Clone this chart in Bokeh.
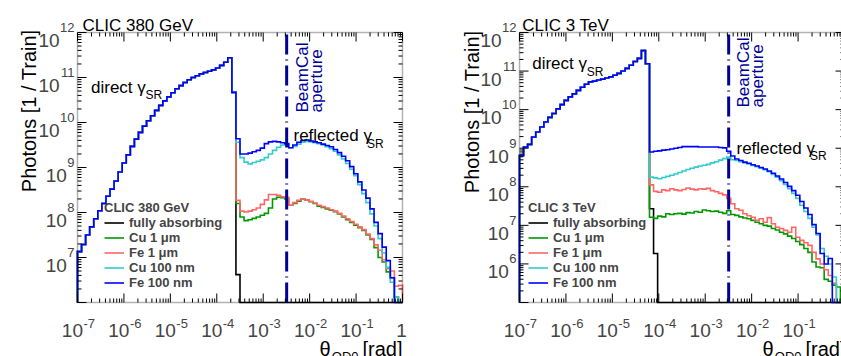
import numpy as np
from bokeh.plotting import figure
from bokeh.layouts import row
from bokeh.models import Range1d, Label, Legend, LegendItem, BoxAnnotation
from bokeh.embed import file_html
from bokeh.resources import INLINE

FONT = "Liberation Sans"

# ---------------- data ----------------
# 80 logarithmic bins in theta_QD0 from 1e-7 to 1 rad
bin_exp_lo, bin_exp_hi, n_bins = -7.0, 0.0, 80
beamcal_aperture = 3.2e-3  # rad

series_labels = ["fully absorbing", "Cu 1 \u03bcm", "Fe 1 \u03bcm", "Cu 100 nm", "Fe 100 nm"]
series_colors = ["#000000", "#009900", "#ff6666", "#33cccc", "#0000ff"]

x_tick_exps = [-7, -6, -5, -4, -3, -2, -1, 0]

# ---- CLIC 380 GeV : log10(photons / train) per bin ----
direct_380 = [7.13, 7.29, 7.50, 7.68, 7.86, 8.04, 8.20, 8.36, 8.52, 8.70,
              8.90, 9.10, 9.28, 9.47, 9.63, 9.78, 9.92, 10.04, 10.15, 10.27,
              10.38, 10.48, 10.57, 10.66, 10.75, 10.82, 10.89, 10.95, 11.00, 11.04,
              11.08, 11.11, 11.14, 11.17, 11.21, 11.27, 11.34, 11.44, 10.67]  # bins 0-38
absorb_380_tail = [6.62]  # bin 39, empty afterwards
cu1um_380_tail = [8.20, 7.90, 7.82, 7.84, 7.87, 7.90, 7.94, 7.98, 8.10, 8.30,
                  8.34, 8.33, 8.30, 8.16, 8.20, 8.25, 8.30, 8.28, 8.24, 8.20,
                  8.14, 8.11, 8.08, 8.05, 8.02, 7.97, 7.90, 7.84, 7.78, 7.72,
                  7.66, 7.60, 7.50, 7.40, 7.22, 7.00, 6.90, 6.68, 6.55, 6.12, None]  # bins 39-79
fe1um_380_tail = [8.27, 8.03, 8.01, 8.03, 8.06, 8.10, 8.18, 8.28, 8.40, 8.40,
                  8.38, 8.35, 8.34, 8.16, 8.22, 8.27, 8.30, 8.28, 8.25, 8.21,
                  8.16, 8.13, 8.10, 8.06, 8.03, 7.98, 7.92, 7.86, 7.80, 7.74,
                  7.68, 7.62, 7.52, 7.42, 7.28, 7.16, 6.95, 6.75, 6.70, 6.36, 6.38]
cu100nm_380_tail = [9.56, 9.22, 9.12, 9.08, 9.11, 9.14, 9.17, 9.22, 9.30, 9.38,
                    9.45, 9.50, 9.52, 9.44, 9.47, 9.52, 9.56, 9.58, 9.57, 9.55,
                    9.53, 9.50, 9.46, 9.42, 9.36, 9.28, 9.19, 9.09, 8.96, 8.82,
                    8.62, 8.42, 8.22, 7.97, 7.70, 7.42, 7.10, 6.78, 6.45, 6.12, None]
fe100nm_380_tail = [9.64, 9.30, 9.30, 9.32, 9.35, 9.38, 9.43, 9.53, 9.57, 9.58,
                    9.57, 9.55, 9.53, 9.44, 9.50, 9.56, 9.60, 9.61, 9.59, 9.57,
                    9.55, 9.52, 9.49, 9.46, 9.40, 9.33, 9.25, 9.15, 9.02, 8.86,
                    8.68, 8.50, 8.32, 8.08, 7.78, 7.53, 7.23, 6.93, 6.55, None, None]

# ---- CLIC 3 TeV : log10(photons / train) per bin ----
direct_3tev = [8.81, 9.03, 9.10, 9.29, 9.42, 9.55, 9.68, 9.80, 9.90, 10.02,
               10.13, 10.24, 10.33, 10.41, 10.50, 10.58, 10.66, 10.72, 10.74, 10.77,
               10.79, 10.82, 10.85, 10.89, 10.94, 11.00, 11.07, 11.15, 11.25, 11.33,
               11.53, 11.19]  # bins 0-31
absorb_3tev_tail = [7.43, 6.27]  # bins 32-33, empty afterwards
cu1um_3tev_tail = [7.21, 7.18, 7.24, 7.22, 7.30, 7.28, 7.30, 7.31,
                   7.29, 7.33, 7.32, 7.36, 7.34, 7.40, 7.38, 7.36,
                   7.37, 7.34, 7.31, 7.38, 7.28, 7.26, 7.22, 7.19,
                   7.17, 7.13, 7.08, 7.04, 7.00, 6.98, 6.92, 6.88,
                   6.82, 6.78, 6.72, 6.66, 6.58, 6.50, 6.40, 6.30,
                   6.05, 5.92, 5.90, 5.60, 5.55, 5.45, 5.40, None]  # bins 32-79
fe1um_3tev_tail = [8.05, 7.88, 7.86, 7.92, 7.90, 7.95, 7.92, 7.90,
                   7.93, 7.97, 7.94, 7.92, 7.95, 7.94, 7.96, 7.90,
                   7.87, 7.83, 7.79, 7.70, 7.56, 7.43, 7.39, 7.30,
                   7.25, 7.21, 7.13, 7.17, 7.08, 7.20, 7.04, 6.95,
                   6.92, 6.87, 6.82, 6.95, 6.69, 6.61, 6.55, 6.48,
                   6.30, 6.13, 6.00, 5.85, 5.70, 5.50, None, None]
cu100nm_3tev_tail = [8.25, 8.23, 8.21, 8.24, 8.27, 8.30, 8.33, 8.37,
                     8.41, 8.45, 8.48, 8.51, 8.54, 8.56, 8.58, 8.62,
                     8.65, 8.69, 8.73, 8.77, 8.70, 8.68, 8.65, 8.62,
                     8.59, 8.55, 8.52, 8.48, 8.44, 8.39, 8.32, 8.25,
                     8.16, 8.06, 7.95, 7.83, 7.70, 7.52, 7.36, 7.18,
                     6.95, 6.75, 6.40, 6.20, 6.00, 5.66, None, None]
fe100nm_3tev_tail = [8.90, 8.92, 8.93, 8.95, 8.96, 8.98, 9.00, 9.02,
                     9.04, 9.04, 9.04, 9.04, 9.03, 9.03, 9.03, 9.03,
                     9.03, 9.02, 9.01, 8.92, 8.80, 8.72, 8.68, 8.64,
                     8.61, 8.57, 8.54, 8.50, 8.46, 8.41, 8.35, 8.28,
                     8.20, 8.11, 8.01, 7.90, 7.78, 7.62, 7.45, 7.28,
                     7.02, 6.79, 6.27, 6.00, 6.14, None, None, None]


def full(direct, tail):
    vals = list(direct) + list(tail)
    return vals + [None] * (n_bins - len(vals))


hists_380 = [full(direct_380, absorb_380_tail), full(direct_380, cu1um_380_tail),
             full(direct_380, fe1um_380_tail), full(direct_380, cu100nm_380_tail),
             full(direct_380, fe100nm_380_tail)]
hists_3tev = [full(direct_3tev, absorb_3tev_tail), full(direct_3tev, cu1um_3tev_tail),
              full(direct_3tev, fe1um_3tev_tail), full(direct_3tev, cu100nm_3tev_tail),
              full(direct_3tev, fe100nm_3tev_tail)]

EDGES = 10.0 ** np.linspace(bin_exp_lo, bin_exp_hi, n_bins + 1)


def step_xy(vals, floor):
    xs, ys = [EDGES[0]], [floor]
    for i, v in enumerate(vals):
        y = floor if v is None else 10.0 ** v
        xs += [EDGES[i], EDGES[i + 1]]
        ys += [y, y]
    xs.append(EDGES[-1])
    ys.append(floor)
    return xs, ys


# ---------------- drawing ----------------
H = 356
FRAME_TOP, FRAME_BOTTOM = 32, 302
DX = 325.0 / 7.0  # px per decade in x


def make_panel(width, frame_left, y_lo_exp, hists, cfg):
    n_dec_y = 12 - y_lo_exp
    dy = (FRAME_BOTTOM - FRAME_TOP) / n_dec_y
    x_lo = 10.0 ** (-7 - frame_left / DX)
    x_hi = 10.0 ** (-7 + (width - frame_left) / DX)
    y_lo = 10.0 ** (y_lo_exp - (H - FRAME_BOTTOM) / dy)
    y_hi = 10.0 ** (12 + FRAME_TOP / dy)
    ybot, ytop = 10.0 ** y_lo_exp, 1e12

    p = figure(width=width, height=H, x_axis_type="log", y_axis_type="log",
               x_range=Range1d(x_lo, x_hi), y_range=Range1d(y_lo, y_hi),
               output_backend="svg", toolbar_location=None,
               x_axis_location=None, y_axis_location=None,
               min_border_left=0, min_border_right=0, min_border_top=0, min_border_bottom=0)
    p.grid.visible = False
    p.outline_line_color = None
    p.background_fill_color = "white"
    p.border_fill_color = "white"

    # histograms
    renderers = []
    for vals, col in zip(hists, series_colors):
        xs, ys = step_xy(vals, ybot)
        r = p.line(xs, ys, line_color=col, line_width=1.6, line_join="miter")
        renderers.append(r)

    # BeamCal aperture line
    p.segment(x0=[beamcal_aperture], y0=[ybot], x1=[beamcal_aperture], y1=[ytop],
              line_color="#000099", line_width=3, line_dash="20 5 1 5")

    # frame
    p.add_layout(BoxAnnotation(left=1e-7, right=1.0, bottom=ybot, top=ytop,
                               fill_color=None, fill_alpha=0, line_color="black",
                               line_width=1.5, level="overlay"))

    # ticks (inward, on all four sides)
    fx_maj, fx_min = 10.0 ** (9 / DX), 10.0 ** (4 / DX)
    fy_maj, fy_min = 10.0 ** (9 / dy), 10.0 ** (4 / dy)
    xmaj = [10.0 ** e for e in x_tick_exps]
    xmin = [m * 10.0 ** e for e in range(-7, 0) for m in range(2, 10)]
    ymaj = [10.0 ** e for e in range(y_lo_exp, 13)]
    ymin = [m * 10.0 ** e for e in range(y_lo_exp, 12) for m in range(2, 10)]
    for ticks, f in ((xmaj, fy_maj), (xmin, fy_min)):
        p.segment(x0=ticks, y0=[ybot] * len(ticks), x1=ticks, y1=[ybot * f] * len(ticks),
                  line_color="black", line_width=1)
        p.segment(x0=ticks, y0=[ytop] * len(ticks), x1=ticks, y1=[ytop / f] * len(ticks),
                  line_color="black", line_width=1)
    for ticks, f in ((ymaj, fx_maj), (ymin, fx_min)):
        p.segment(x0=[1e-7] * len(ticks), y0=ticks, x1=[1e-7 * f] * len(ticks), y1=ticks,
                  line_color="black", line_width=1)
        p.segment(x0=[1.0] * len(ticks), y0=ticks, x1=[1.0 / f] * len(ticks), y1=ticks,
                  line_color="black", line_width=1)

    x0, y1 = 1e-7, 1e12

    def put(text, X, Y, size, angle=0.0, align="left", color="black", style="normal"):
        p.add_layout(Label(x=x0, y=y1, x_offset=X - frame_left, y_offset=-(Y - FRAME_TOP),
                           text=text, text_font=FONT, text_font_size=f"{size}px",
                           text_align=align, text_baseline="alphabetic", angle=angle,
                           text_color=color, text_font_style=style))

    # x tick labels
    for e in x_tick_exps:
        px = frame_left + (e + 7) * DX
        if px > width:
            continue
        if e == 0:
            p.add_layout(Label(x=1.0, y=ybot, x_offset=-1, y_offset=-28, text="1",
                               text_font=FONT, text_font_size="19px", text_align="center",
                               text_baseline="alphabetic"))
        else:
            p.add_layout(Label(x=10.0 ** e, y=ybot, x_offset=5.5, y_offset=-28, text="10",
                               text_font=FONT, text_font_size="19px", text_align="right",
                               text_baseline="alphabetic"))
            p.add_layout(Label(x=10.0 ** e, y=ybot, x_offset=6, y_offset=-21, text=str(e),
                               text_font=FONT, text_font_size="13px", text_align="left",
                               text_baseline="alphabetic"))
    # y tick labels
    for e in range(y_lo_exp + 1, 13):
        w = len(str(e)) * 0.556 * 13 + 0.5
        p.add_layout(Label(x=x0, y=10.0 ** e, x_offset=-3 - w, y_offset=-8, text="10",
                           text_font=FONT, text_font_size="19px", text_align="right",
                           text_baseline="alphabetic"))
        p.add_layout(Label(x=x0, y=10.0 ** e, x_offset=-3, y_offset=5, text=str(e),
                           text_font=FONT, text_font_size="13px", text_align="right",
                           text_baseline="alphabetic"))

    # titles and annotations
    put(cfg["title"], cfg["title_x"], 25, 17)
    put("Photons [1 / Train]", cfg["ytitle_x"], cfg["ytitle_y"], 20, angle=np.pi / 2, align="right")
    rx = cfg["xtitle_right"]
    put("[rad]", rx, 348, 20, align="right")
    put("QD0", rx - 44, 356, 13, align="right")
    put("\u03b8", rx - 72, 348, 20, align="right")
    dxy = cfg["direct"]
    put("direct \u03b3", dxy[0], dxy[1], 17)
    put("SR", dxy[0] + 54.5, dxy[1] + 8, 12)
    fxy = cfg["reflected"]
    put("reflected \u03b3", fxy[0], fxy[1], 17)
    put("SR", fxy[0] + 73.5, fxy[1] + 8, 12)
    bx, by = cfg["beamcal"]
    put("BeamCal", bx, by, 17, angle=np.pi / 2, color="#000099")
    put("aperture", bx + 14, by, 17, angle=np.pi / 2, color="#000099")

    items = [LegendItem(label=lab, renderers=[r]) for lab, r in zip(series_labels, renderers)]
    lx, ly = cfg["legend_loc"]
    leg = Legend(items=items, title=cfg["legend_title"],
                 location=(frame_left + lx, (H - FRAME_BOTTOM) + ly),
                 orientation="vertical", border_line_color=None, background_fill_alpha=0.0,
                 padding=0, margin=0, spacing=0, glyph_width=20, glyph_height=13,
                 label_height=13, label_standoff=5,
                 label_text_font=FONT, label_text_font_style="bold", label_text_font_size="13px",
                 title_text_font=FONT, title_text_font_style="bold", title_text_font_size="13px",
                 title_standoff=0)
    p.add_layout(leg)
    return p


cfg_380 = dict(title="CLIC 380 GeV", title_x=82, ytitle_x=28, ytitle_y=29, xtitle_right=402,
               direct=(90.5, 86.7), reflected=(293, 135), beamcal=(302, 112),
               legend_title="CLIC 380 GeV", legend_loc=(27, 12))
cfg_3tev = dict(title="CLIC 3 TeV", title_x=101.7, ytitle_x=51, ytitle_y=30, xtitle_right=425,
                direct=(111.7, 63.3), reflected=(316, 147.7), beamcal=(323, 107),
                legend_title="CLIC 3 TeV", legend_loc=(9, 12))

p1 = make_panel(420, 77, 6, hists_380, cfg_380)
p2 = make_panel(421, 99, 5, hists_3tev, cfg_3tev)

layout = row(p1, p2)
open("out.html", "w").write(file_html(layout, INLINE))
